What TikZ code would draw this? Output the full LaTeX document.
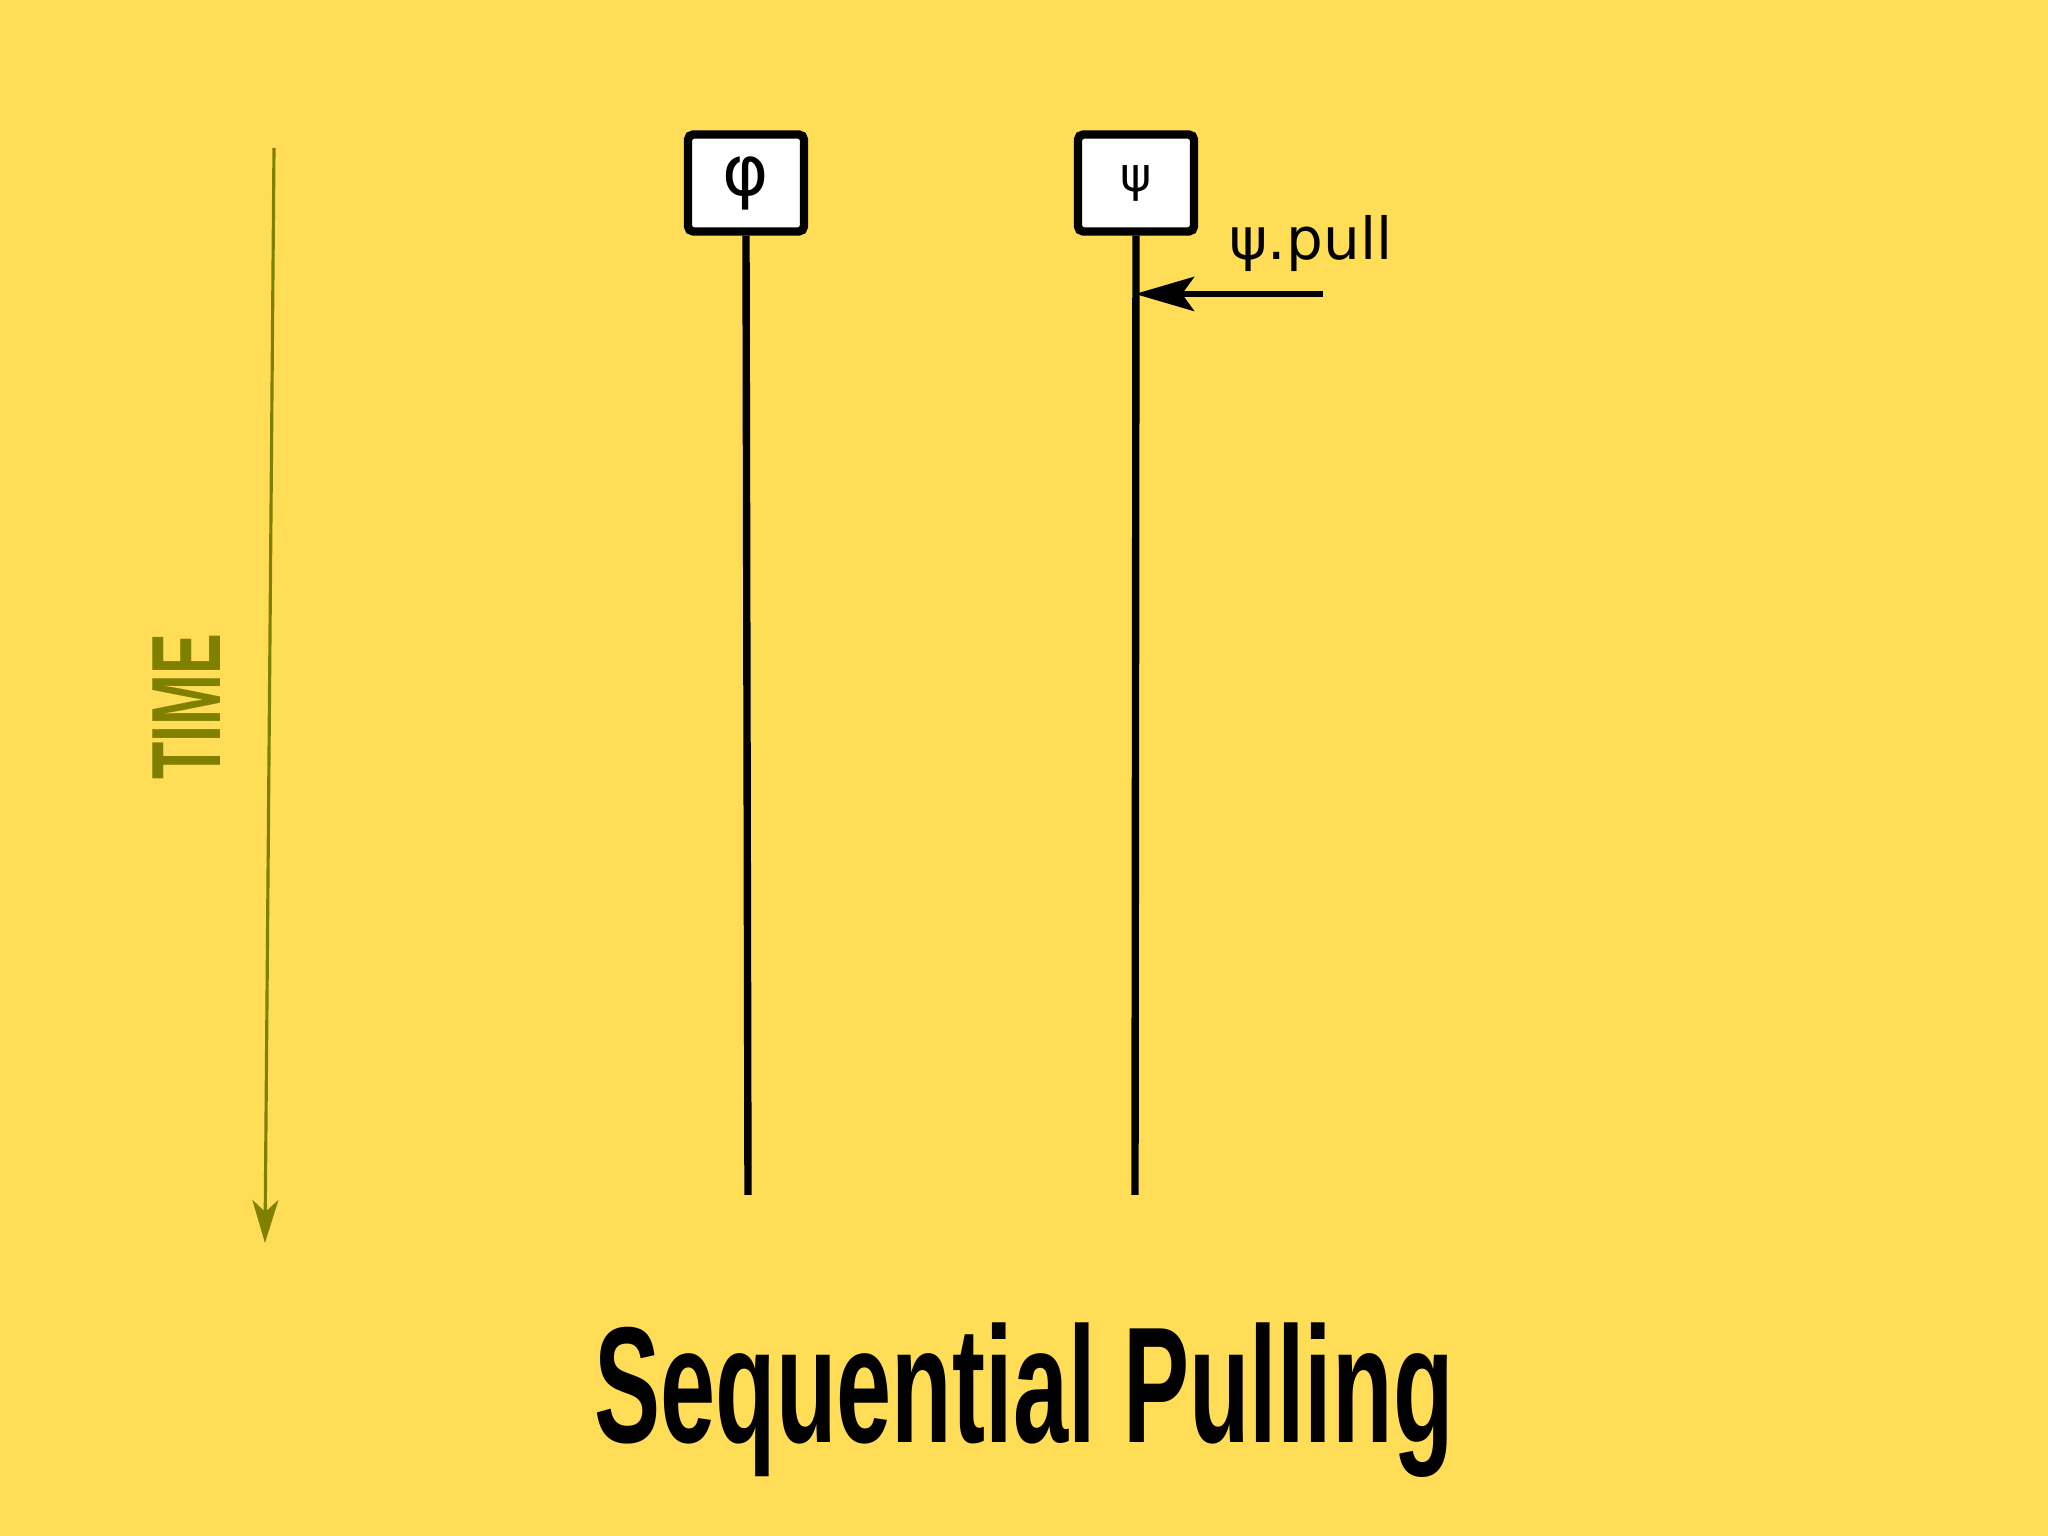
\documentclass[tikz,border=0pt]{standalone}
\usepackage{fontspec}
\setmainfont{DejaVu Sans}
\newfontfamily\heavyfont{Liberation Sans}
\usepackage{tikz}
\usetikzlibrary{arrows.meta}
\definecolor{bgyellow}{RGB}{255,221,87}
\definecolor{timeolive}{RGB}{128,128,0}
\pgfdeclarelayer{bglayer}
\pgfdeclarelayer{edgelayer}
\pgfdeclarelayer{nodelayer}
\pgfsetlayers{bglayer,edgelayer,nodelayer,main}
\tikzstyle{none}=[inner sep=0pt]
\tikzstyle{actor}=[rectangle,fill=white,draw=black,line width=2.4pt,rounded corners=1.5pt,minimum width=1.16cm,minimum height=0.97cm,inner sep=0pt]
\tikzstyle{lifeline}=[-,draw=black,line width=2.1pt]
\tikzstyle{message}=[-{Stealth[length=0.59cm,width=0.34cm,inset=0.12cm]},draw=black,line width=1.9pt]
\tikzstyle{timearrow}=[-{Stealth[length=0.43cm,width=0.26cm,inset=0.12cm]},draw=timeolive,fill=timeolive,line width=0.9pt]
\tikzstyle{msglabel}=[inner sep=0pt,font=\fontsize{16.5}{18}\selectfont]
\tikzstyle{timelabel}=[inner sep=0pt,text=timeolive,font=\heavyfont\bfseries\fontsize{28}{28}\selectfont,yscale=0.62,rotate=90]
\tikzstyle{title}=[inner sep=0pt,font=\heavyfont\bfseries\fontsize{47}{47}\selectfont,xscale=0.6]

\begin{document}
\begin{tikzpicture}
	\begin{pgfonlayer}{bglayer}
		\fill [bgyellow] (0, 0) rectangle (20.48, 15.36);
	\end{pgfonlayer}
	\useasboundingbox (0, 0) rectangle (20.48, 15.36);
	\begin{pgfonlayer}{nodelayer}
		\node [style=actor] (phi) at (7.46, 13.53) {\fontsize{20}{20}\selectfont φ};
		\node [style=actor] (psi) at (11.36, 13.53) {\fontsize{13.5}{13.5}\selectfont ψ};
		\node [style=none] (phiend) at (7.48, 3.41) {};
		\node [style=none] (psiend) at (11.35, 3.41) {};

		\node [style=none] (pullstart) at (13.23, 12.42) {};
		\node [style=none] (pullend) at (11.35, 12.42) {};
		\node [style=msglabel, anchor=base west] (pull) at (12.29, 12.76) {ψ.pull};

		\node [style=none] (timestart) at (2.74, 13.88) {};
		\node [style=none] (timeend) at (2.65, 2.93) {};
		\node [style=timelabel] (time) at (1.87, 8.29) {TIME};

		\node [style=title] (heading) at (10.24, 1.36) {Sequential Pulling};
	\end{pgfonlayer}
	\begin{pgfonlayer}{edgelayer}
		\draw [style=lifeline] (phi.south) to (phiend.center);
		\draw [style=lifeline] (psi.south) to (psiend.center);
		\draw [style=message] (pullstart.center) to (pullend.center);
		\draw [style=timearrow] (timestart.center) to (timeend.center);
	\end{pgfonlayer}
\end{tikzpicture}
\end{document}
